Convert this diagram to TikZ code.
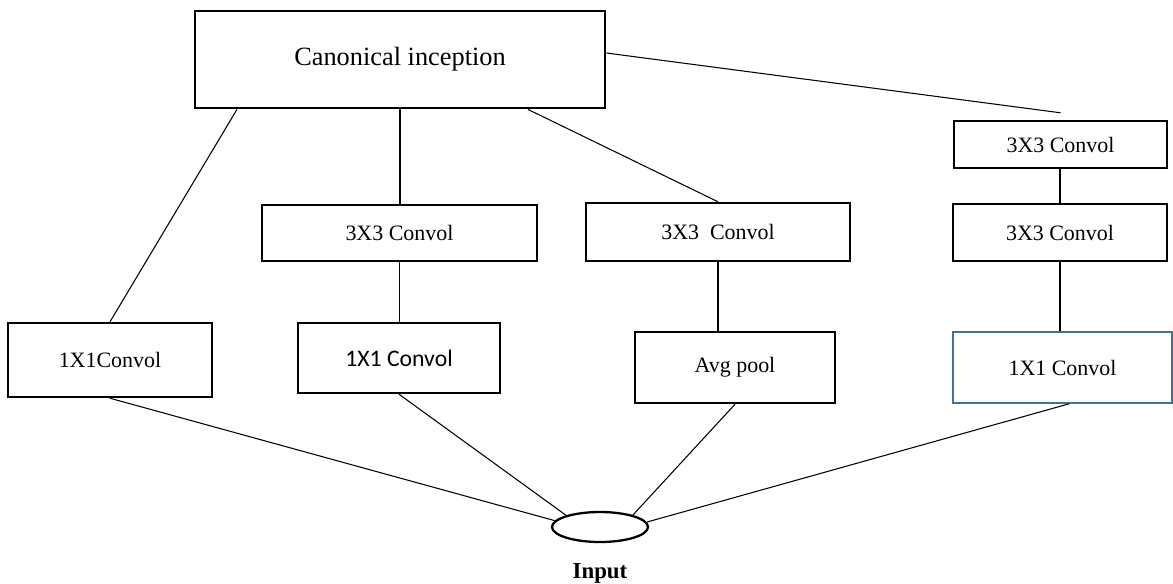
\documentclass[tikz,border=0pt]{standalone}
\usepackage{fontspec}
\setmainfont{Liberation Serif}
\newfontfamily\calibrifont{Carlito}
\usetikzlibrary{shapes.geometric, calc}

\begin{document}
\begin{tikzpicture}[x=0.02cm, y=-0.02cm,
    box/.style={draw, line width=1.4pt, inner sep=0pt, font=\fontsize{12.5}{14}\selectfont},
    bluebox/.style={box, draw={rgb,255:red,65;green,113;blue,156}, line width=0.9pt},
    link/.style={line width=0.6pt}]
  \useasboundingbox (0, 0) rectangle (1173, 583);

  \node[box, minimum width=8.2cm, minimum height=1.94cm, line width=1.6pt,
        font=\fontsize{15}{17}\selectfont] (top) at (400, 59.5) {Canonical inception};

  \node[box, minimum width=4.08cm, minimum height=1.48cm] (c1) at (110, 360) {1X1Convol};

  \node[box, minimum width=5.5cm, minimum height=1.12cm] (c2a) at (399.5, 233) {3X3 Convol};
  \node[box, minimum width=4.04cm, minimum height=1.4cm,
        font=\calibrifont\fontsize{13.5}{15}\selectfont] (c2b) at (399, 358) {1X1 Convol};

  \node[box, minimum width=5.28cm, minimum height=1.16cm] (c3a) at (718, 232) {3X3~~Convol};
  \node[box, minimum width=4.0cm, minimum height=1.42cm] (c3b) at (735, 367.5) {Avg pool};

  \node[box, minimum width=4.26cm, minimum height=0.94cm] (r1) at (1060.5, 144.5) {3X3 Convol};
  \node[box, minimum width=4.28cm, minimum height=1.14cm] (r2) at (1060, 232.5) {3X3 Convol};
  \node[bluebox, minimum width=4.38cm, minimum height=1.42cm] (r3) at (1062.5, 367.5) {1X1 Convol};

  \node[draw, ellipse, line width=1.3pt, inner sep=0pt, minimum width=1.92cm,
        minimum height=0.6cm] (in) at (600, 527) {};
  \node[font=\bfseries\fontsize{13}{15}\selectfont] (inlabel) at (600, 573) {Input};

  \coordinate (r1gap) at ($(r1.north)+(0, -7)$);

  \draw[link] ($(top.south west)!0.105!(top.south east)$) -- (c1.north);
  \draw[link] (top.south) -- (top.south |- c2a.north);
  \draw[link] ($(top.south west)!0.81!(top.south east)$) -- (c3a.north);
  \draw[link] ([yshift=3.7pt]top.east) -- (r1gap);

  \draw[link] (c2a.south) -- (c2a.south |- c2b.north);
  \draw[link] (c3a.south) -- (c3a.south |- c3b.north);
  \draw[link] (r2.north |- r1.south) -- (r2.north);
  \draw[link] (r2.south) -- (r2.south |- r3.north);

  \draw[link] (c1.south) -- (in.172);
  \draw[link] (c2b.south) -- (in.161);
  \draw[link] (c3b.south) -- (in.20);
  \draw[link] ($(r3.south west)!0.53!(r3.south east)$) -- (in.6);
\end{tikzpicture}
\end{document}
